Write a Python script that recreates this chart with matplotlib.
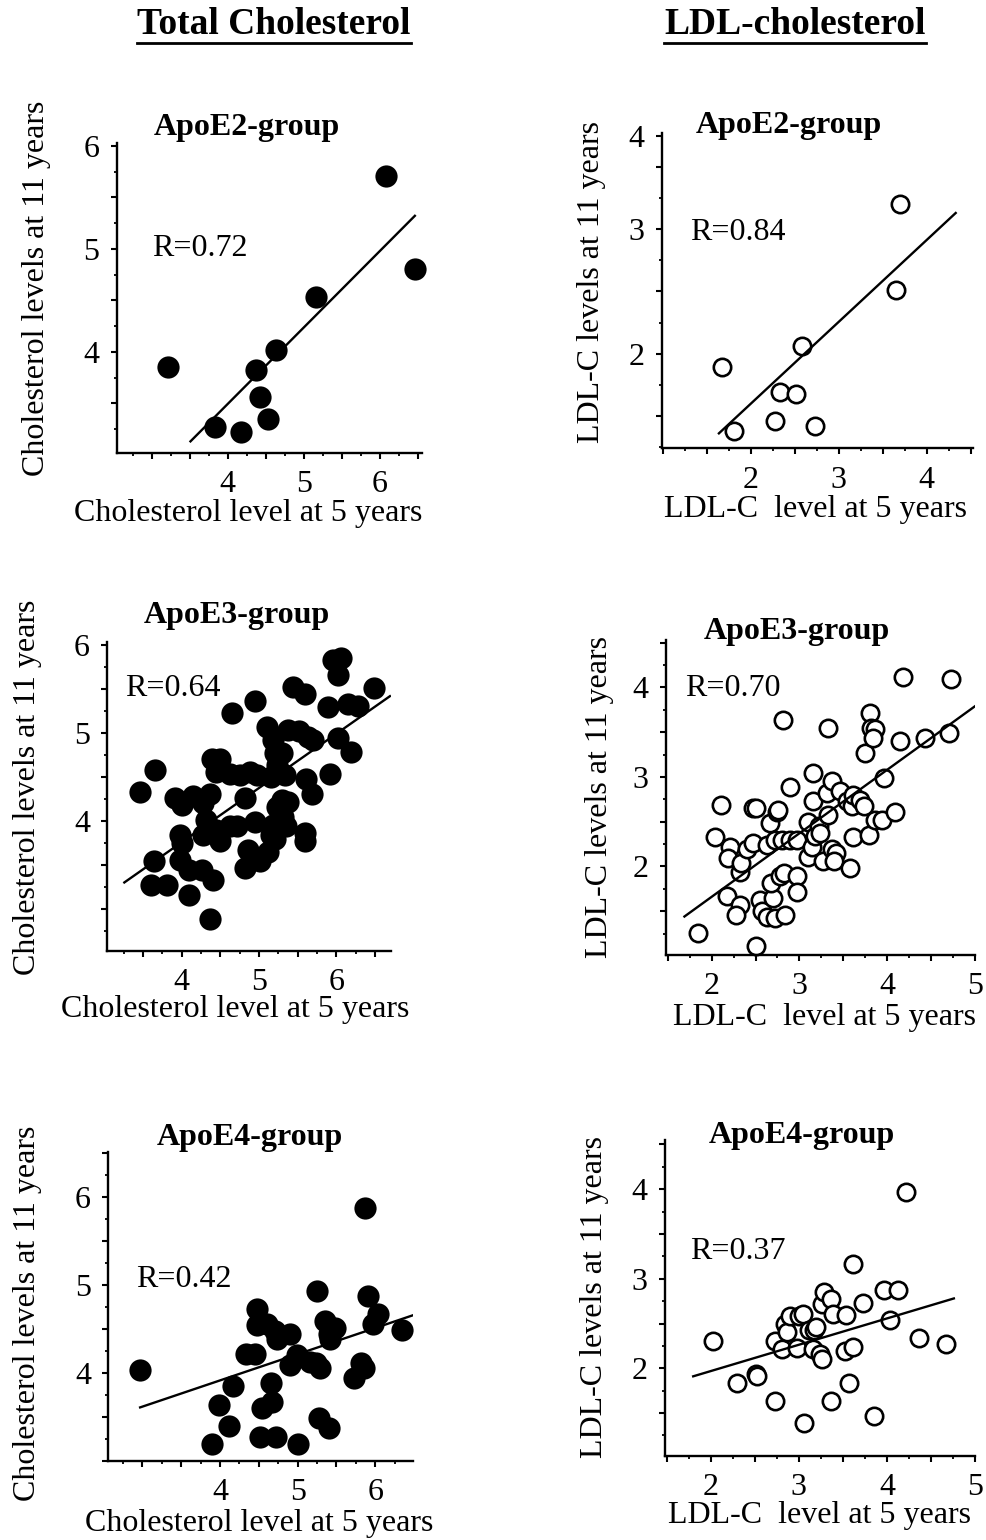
import numpy as np
import matplotlib.pyplot as plt
from matplotlib.lines import Line2D
from matplotlib.ticker import MultipleLocator

plt.rcParams["font.family"] = ["Liberation Serif", "DejaVu Serif"]
plt.rcParams["font.size"] = 23

W, H = 987, 1540

# ---- data ----
# Total cholesterol, ApoE2
tc_e2_x = [3.21, 3.83, 4.18, 4.37, 4.43, 4.53, 4.63, 5.16, 6.08, 6.46]
tc_e2_y = [3.85, 3.27, 3.22, 3.82, 3.56, 3.35, 4.02, 4.53, 5.71, 4.80]
tc_e2_fit_x = [3.51, 6.46]
tc_e2_fit_y = [3.13, 5.32]

# LDL-C, ApoE2
ldl_e2_x = [1.67, 1.81, 2.28, 2.33, 2.52, 2.58, 2.73, 3.65, 3.70]
ldl_e2_y = [1.89, 1.38, 1.46, 1.69, 1.68, 2.06, 1.42, 2.51, 3.20]
ldl_e2_fit_x = [1.64, 4.33]
ldl_e2_fit_y = [1.36, 3.13]

# Total cholesterol, ApoE3
tc_e3_x = [3.46, 3.66, 3.64, 3.60, 3.81, 3.92, 4.00, 3.98, 4.00, 3.98,
           4.09, 4.09, 4.15, 4.26, 4.28, 4.31, 4.28, 4.41, 4.36, 4.37,
           4.39, 4.49, 4.45, 4.62, 4.75, 4.88, 4.97, 4.45, 4.49, 4.62,
           4.71, 4.82, 4.65, 4.95, 4.95, 4.86, 4.82, 5.10, 5.01, 5.12,
           5.16, 5.18, 5.23, 5.18, 5.20, 5.23, 5.16, 5.29, 5.33, 5.29,
           5.31, 5.35, 5.38, 5.25, 5.20, 5.38, 5.51, 5.63, 5.70, 5.44,
           5.59, 5.61, 5.68, 5.59, 5.59, 5.89, 5.91, 6.02, 5.96, 6.06,
           6.02, 6.15, 6.28, 6.19, 6.49]
tc_e3_y = [4.33, 4.58, 3.54, 3.27, 3.27, 4.26, 4.18, 3.84, 3.75, 3.55,
           3.44, 3.16, 4.28, 3.44, 4.20, 4.01, 3.84, 3.33, 2.88, 4.31,
           4.71, 4.71, 4.56, 4.54, 4.52, 4.56, 4.52, 3.90, 3.77, 3.94,
           3.94, 4.26, 5.23, 5.36, 3.99, 3.67, 3.46, 5.07, 3.54, 3.65,
           3.84, 3.95, 4.16, 4.92, 4.77, 4.64, 4.50, 4.77, 4.52, 4.24,
           4.05, 3.94, 4.22, 3.97, 3.80, 5.03, 5.02, 4.96, 4.92, 5.53,
           5.45, 4.48, 4.31, 3.86, 3.77, 5.30, 4.54, 4.94, 5.83, 5.85,
           5.66, 5.33, 5.31, 4.79, 5.51]
tc_e3_fit_x = [3.26, 6.69]
tc_e3_fit_y = [3.30, 5.42]

# LDL-C, ApoE3
ldl_e3_x = [1.84, 2.51, 2.04, 2.11, 2.21, 2.19, 2.32, 2.34, 2.17, 2.32,
            2.28, 2.40, 2.47, 2.47, 2.51, 2.55, 2.57, 2.63, 2.72, 2.84,
            2.70, 2.68, 2.78, 2.82, 2.97, 2.97, 2.63, 2.66, 2.74, 2.76,
            2.72, 2.80, 2.89, 2.97, 2.89, 2.81, 3.10, 3.10, 3.14, 3.16,
            3.16, 3.18, 3.22, 3.23, 3.27, 3.31, 3.33, 3.33, 3.37, 3.37,
            3.42, 3.39, 3.46, 3.54, 3.58, 3.60, 3.61, 3.61, 3.69, 3.73,
            3.75, 3.79, 3.80, 3.82, 3.86, 3.84, 3.86, 3.94, 3.96, 4.09,
            4.15, 4.18, 4.43, 4.70, 4.73]
ldl_e3_y = [1.26, 1.11, 2.33, 2.69, 2.22, 2.09, 1.94, 2.04, 1.67, 1.57,
            1.46, 2.20, 2.26, 2.65, 2.65, 1.63, 1.50, 1.44, 1.42, 1.46,
            1.65, 1.81, 1.89, 1.93, 1.89, 1.71, 2.24, 2.48, 2.61, 2.63,
            2.30, 2.30, 2.30, 2.30, 2.89, 3.64, 2.50, 2.11, 2.22, 3.04,
            2.73, 2.34, 2.45, 2.37, 2.06, 2.82, 2.58, 3.55, 2.95, 2.19,
            2.15, 2.06, 2.84, 2.73, 1.98, 2.67, 2.80, 2.33, 2.74, 2.68,
            3.27, 2.35, 3.71, 3.55, 3.53, 3.43, 2.52, 2.52, 2.99, 2.61,
            3.40, 4.12, 3.43, 3.49, 4.09]
ldl_e3_fit_x = [1.69, 5.00]
ldl_e3_fit_y = [1.44, 3.79]

# Total cholesterol, ApoE4
tc_e4_x = [2.97, 3.89, 3.99, 4.11, 4.17, 4.34, 4.45, 4.48, 4.47, 4.52,
           4.54, 4.60, 4.65, 4.67, 4.71, 4.73, 4.72, 4.90, 4.90, 4.99,
           5.01, 5.16, 5.25, 5.24, 5.29, 5.28, 5.40, 5.35, 5.40, 5.42,
           5.48, 5.72, 5.81, 5.85, 5.87, 5.91, 5.97, 6.04, 6.34]
tc_e4_y = [4.03, 3.19, 3.64, 3.40, 3.85, 4.22, 4.22, 4.73, 4.55, 3.27,
           3.60, 4.56, 3.89, 3.67, 4.48, 4.39, 3.27, 4.44, 4.09, 4.21,
           3.19, 4.13, 4.94, 4.11, 4.06, 3.49, 3.38, 4.59, 4.45, 4.39,
           4.51, 3.94, 4.11, 4.06, 5.88, 4.88, 4.56, 4.67, 4.49]
tc_e4_fit_x = [2.97, 6.49]
tc_e4_fit_y = [3.61, 4.66]

# LDL-C, ApoE4
ldl_e4_x = [2.02, 2.30, 2.51, 2.52, 2.73, 2.73, 2.81, 2.84, 2.86, 2.90,
            2.98, 3.00, 3.05, 3.06, 3.11, 3.17, 3.20, 3.16, 3.24, 3.26,
            3.26, 3.28, 3.36, 3.39, 3.36, 3.54, 3.52, 3.57, 3.61, 3.62,
            3.73, 3.85, 3.97, 4.04, 4.13, 4.22, 4.36, 4.67]
ldl_e4_y = [2.31, 1.83, 1.94, 1.91, 1.63, 2.31, 2.22, 2.50, 2.41, 2.58,
            2.23, 2.58, 2.61, 1.39, 2.43, 2.43, 2.46, 2.22, 2.16, 2.10,
            2.72, 2.85, 2.77, 2.61, 1.63, 2.60, 2.19, 1.83, 3.17, 2.24,
            2.73, 1.47, 2.87, 2.54, 2.87, 3.97, 2.34, 2.27]
ldl_e4_fit_x = [1.80, 4.76]
ldl_e4_fit_y = [1.91, 2.78]

group_titles = ["ApoE2-group", "ApoE3-group", "ApoE4-group"]
r_labels_tc = ["R=0.72", "R=0.64", "R=0.42"]
r_labels_ldl = ["R=0.84", "R=0.70", "R=0.37"]

tc_xlabel = "Cholesterol level at 5 years"
tc_ylabel = "Cholesterol levels at 11 years"
ldl_xlabel = "LDL-C  level at 5 years"
ldl_ylabel = "LDL-C levels at 11 years"

# ---- layout (pixel boxes: left, top, right, bottom) ----
panels = [
    dict(x=tc_e2_x, y=tc_e2_y, fx=tc_e2_fit_x, fy=tc_e2_fit_y, filled=True,
         box=(116.7, 142.7, 421.7, 452.7), xlim=(2.54, 6.55), ylim=(3.02, 6.03),
         xt={4: "4", 5: "5", 6: "6"}, yt={4: "4", 5: "5", 6: "6"},
         title=group_titles[0], title_xy=(247, 127), r=r_labels_tc[0], r_xy=(3.0, 5.0),
         xlabel=tc_xlabel, xlab_xy=(248, 514), ylabel=tc_ylabel, ylab_xy=(37, 288)),
    dict(x=ldl_e2_x, y=ldl_e2_y, fx=ldl_e2_fit_x, fy=ldl_e2_fit_y, filled=False,
         box=(661.7, 133.3, 973.3, 448.3), xlim=(0.99, 4.53), ylim=(1.24, 3.77),
         xt={2: "2", 3: "3", 4: "4"}, yt={2: "2", 3: "3", 3.75: "4"},
         title=group_titles[0], title_xy=(789, 125), r=r_labels_ldl[0], r_xy=(1.31, 2.97),
         xlabel=ldl_xlabel, xlab_xy=(815, 510), ylabel=ldl_ylabel, ylab_xy=(592, 282)),
    dict(x=tc_e3_x, y=tc_e3_y, fx=tc_e3_fit_x, fy=tc_e3_fit_y, filled=True,
         box=(107.3, 641.7, 390.7, 951), xlim=(3.04, 6.70), ylim=(2.52, 6.04),
         xt={4: "4", 5: "5", 6: "6"}, yt={4: "4", 5: "5", 6: "6"},
         title=group_titles[1], title_xy=(237, 615), r=r_labels_tc[1], r_xy=(3.27, 5.51),
         xlabel=tc_xlabel, xlab_xy=(235, 1009), ylabel=tc_ylabel, ylab_xy=(28, 787)),
    dict(x=ldl_e3_x, y=ldl_e3_y, fx=ldl_e3_fit_x, fy=ldl_e3_fit_y, filled=False,
         box=(666, 640, 975, 955), xlim=(1.48, 5.0), ylim=(1.01, 4.53),
         xt={2: "2", 3: "3", 4: "4", 5: "5"}, yt={2: "2", 3: "3", 4: "4"},
         title=group_titles[1], title_xy=(797, 631), r=r_labels_ldl[1], r_xy=(1.70, 3.99),
         xlabel=ldl_xlabel, xlab_xy=(825, 1018), ylabel=ldl_ylabel, ylab_xy=(600, 797)),
    dict(x=tc_e4_x, y=tc_e4_y, fx=tc_e4_fit_x, fy=tc_e4_fit_y, filled=True,
         box=(108.3, 1151.7, 413.3, 1461), xlim=(2.56, 6.49), ylim=(3.0, 6.52),
         xt={4: "4", 5: "5", 6: "6"}, yt={4: "4", 5: "5", 6: "6"},
         title=group_titles[2], title_xy=(250, 1137), r=r_labels_tc[2], r_xy=(2.92, 5.07),
         xlabel=tc_xlabel, xlab_xy=(259, 1524), ylabel=tc_ylabel, ylab_xy=(28, 1313)),
    dict(x=ldl_e4_x, y=ldl_e4_y, fx=ldl_e4_fit_x, fy=ldl_e4_fit_y, filled=False,
         box=(665, 1140, 975, 1456), xlim=(1.48, 5.0), ylim=(1.02, 4.55),
         xt={2: "2", 3: "3", 4: "4", 5: "5"}, yt={2: "2", 3: "3", 4: "4"},
         title=group_titles[2], title_xy=(802, 1136), r=r_labels_ldl[2], r_xy=(1.77, 3.30),
         xlabel=ldl_xlabel, xlab_xy=(820, 1515), ylabel=ldl_ylabel, ylab_xy=(595, 1297)),
]

FS = 23

fig = plt.figure(figsize=(W / 100, H / 100), dpi=100)


def fpos(px, py):
    return px / W, 1 - py / H


def major_ticks(lim, labels):
    lo = np.ceil(lim[0] * 2) / 2
    pos = set(np.round(np.arange(lo, lim[1] + 1e-9, 0.5), 2))
    pos |= set(labels.keys())
    pos = sorted(pos)
    return pos, [labels.get(p, "") for p in pos]


for p in panels:
    l, t, r, b = p["box"]
    ax = fig.add_axes([l / W, 1 - b / H, (r - l) / W, (b - t) / H])

    if p["filled"]:
        ax.plot(p["x"], p["y"], "o", color="black", ms=16, mew=0, clip_on=False)
    else:
        ax.plot(p["x"], p["y"], "o", mfc="white", mec="black", ms=12.5, mew=1.9,
                clip_on=False)
    ax.plot(p["fx"], p["fy"], color="black", lw=1.7)

    ax.set_xlim(*p["xlim"])
    ax.set_ylim(*p["ylim"])
    xp, xl = major_ticks(p["xlim"], p["xt"])
    yp, yl = major_ticks(p["ylim"], p["yt"])
    ax.set_xticks(xp, xl)
    ax.set_yticks(yp, yl)
    ax.xaxis.set_minor_locator(MultipleLocator(0.25))
    ax.yaxis.set_minor_locator(MultipleLocator(0.25))
    ax.tick_params(which="major", direction="out", length=4.5, width=1.5,
                   labelsize=FS, pad=8)
    ax.tick_params(which="minor", direction="out", length=2.5, width=1.3)

    for s in ["top", "right"]:
        ax.spines[s].set_visible(False)
    for s in ["left", "bottom"]:
        ax.spines[s].set_linewidth(1.7)

    ax.text(p["r_xy"][0], p["r_xy"][1], p["r"], fontsize=FS, ha="left", va="center")

    fig.text(*fpos(*p["title_xy"]), p["title"], fontsize=FS, fontweight="bold",
             ha="center", va="center")
    fig.text(*fpos(*p["xlab_xy"]), p["xlabel"], fontsize=FS, ha="center", va="center")
    fig.text(*fpos(*p["ylab_xy"]), p["ylabel"], fontsize=FS, ha="center", va="center",
             rotation=90)

# column headers, underlined
headers = [("Total Cholesterol", (274, 24)), ("LDL-cholesterol", (795, 24))]
hdr_texts = []
for txt, (hx, hy) in headers:
    hdr_texts.append(fig.text(*fpos(hx, hy), txt, fontsize=27, fontweight="bold",
                              ha="center", va="center"))

fig.canvas.draw()
renderer = fig.canvas.get_renderer()
for ht in hdr_texts:
    bb = ht.get_window_extent(renderer)
    yline = bb.y0 - 1
    fig.add_artist(Line2D([bb.x0 / W, bb.x1 / W], [yline / H, yline / H],
                          color="black", lw=2))

fig.savefig("out.png", dpi=100)
